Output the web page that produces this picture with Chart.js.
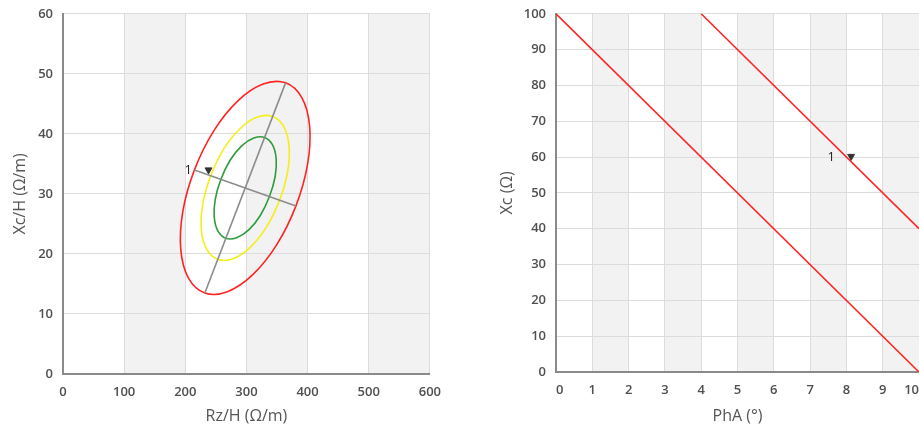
<!DOCTYPE html>
<html>
<head>
<meta charset="utf-8">
<script src="https://cdn.jsdelivr.net/npm/chart.js@4.4.1/dist/chart.umd.min.js"></script>
<style>
  html, body { margin: 0; padding: 0; background: #fff; overflow: hidden; width: 919px; height: 430px; }
  #leftWrap { position: absolute; left: 0; top: -4px; width: 451px; height: 434px; }
  #rightWrap { position: absolute; left: 460px; top: -4px; width: 476px; height: 434px; }
</style>
</head>
<body>
<div id="leftWrap"><canvas id="ellipseChart" width="451" height="434"></canvas></div>
<div id="rightWrap"><canvas id="phaseChart" width="476" height="434"></canvas></div>
<script>
// Left chart: Rz/H vs Xc/H ellipses (points read around each curve)
const redX = [364, 327.2, 286, 246.6, 215, 196, 192.6, 205.2, 232, 268.8, 310, 349.4, 381, 400, 403.4, 390.8];
const redY = [48.5, 48.3, 45.5, 40.5, 34, 27.1, 20.75, 15.98, 13.5, 13.7, 16.5, 21.5, 28, 34.9, 41.25, 46.0];
const yellowX = [342.9, 317.9, 289.8, 263.0, 241.6, 228.6, 226.3, 234.9, 253.1, 278.1, 306.2, 333.0, 354.4, 367.4, 369.7, 361.1];
const yellowY = [42.9, 42.8, 40.9, 37.5, 33.0, 28.3, 24.0, 20.8, 19.1, 19.2, 21.1, 24.5, 29.0, 33.7, 38.0, 41.2];
const greenX = [329.7, 312.0, 292.2, 273.3, 258.2, 249.0, 247.4, 253.5, 266.3, 284.0, 303.8, 322.7, 337.8, 347.0, 348.6, 342.5];
const greenY = [39.4, 39.3, 38.0, 35.6, 32.4, 29.1, 26.1, 23.8, 22.6, 22.7, 24.0, 26.4, 29.6, 32.9, 35.9, 38.2];
const majorAxisX = [232, 364];
const majorAxisY = [13.5, 48.5];
const minorAxisX = [215, 381];
const minorAxisY = [34, 28];
const leftMarkerX = [238];
const leftMarkerY = [34];
const leftLabels = [{ x: 205, y: 34, text: '1' }];
const leftBands = [[100, 200], [300, 400], [500, 600]];

// Right chart: PhA vs Xc lines
const lineAX = [0, 10];
const lineAY = [100, 0];
const lineBX = [4, 10];
const lineBY = [100, 40];
const rightMarkerX = [8.13];
const rightMarkerY = [60.2];
const rightLabels = [{ x: 7.58, y: 60, text: '1' }];
const rightBands = [[1, 2], [3, 4], [5, 6], [7, 8], [9, 10]];

const FONT = "'Open Sans', 'DejaVu Sans', sans-serif";

function toPoints(xs, ys) {
  return xs.map((x, i) => ({ x, y: ys[i] }));
}

// closed curve: wrap one point on each side and hide the two extra segments
function loopDataset(xs, ys, color) {
  const pts = toPoints(xs, ys);
  const data = [pts[pts.length - 1], ...pts, pts[0], pts[1]];
  const last = data.length - 2;
  return {
    data,
    showLine: true,
    borderColor: color,
    borderWidth: 1.6,
    pointRadius: 0,
    tension: 0.34,
    segment: {
      borderColor: (ctx) => (ctx.p0DataIndex === 0 || ctx.p0DataIndex === last) ? 'rgba(0,0,0,0)' : color
    }
  };
}

function lineDataset(xs, ys, color, width) {
  return {
    data: toPoints(xs, ys),
    showLine: true,
    borderColor: color,
    borderWidth: width,
    pointRadius: 0
  };
}

function markerDataset(xs, ys) {
  return {
    data: toPoints(xs, ys),
    showLine: false,
    pointStyle: 'triangle',
    rotation: 180,
    pointRadius: 4,
    backgroundColor: '#333',
    borderColor: '#333',
    borderWidth: 1
  };
}

// shaded vertical bands + "1" labels
const bandsPlugin = {
  id: 'bands',
  beforeDraw(chart, args, opts) {
    const { ctx, chartArea, scales } = chart;
    ctx.save();
    ctx.fillStyle = '#f2f2f2';
    opts.bands.forEach(([a, b]) => {
      const x0 = scales.x.getPixelForValue(a);
      const x1 = scales.x.getPixelForValue(b);
      ctx.fillRect(x0, chartArea.top, x1 - x0, chartArea.bottom - chartArea.top);
    });
    ctx.restore();
  },
  afterDatasetsDraw(chart, args, opts) {
    const { ctx, scales } = chart;
    ctx.save();
    ctx.fillStyle = '#222';
    ctx.font = '13px ' + FONT;
    ctx.textAlign = 'center';
    ctx.textBaseline = 'middle';
    opts.labels.forEach((l) => {
      ctx.fillText(l.text, scales.x.getPixelForValue(l.x), scales.y.getPixelForValue(l.y));
    });
    ctx.restore();
  }
};

function makeOptions(cfg) {
  return {
    responsive: false,
    animation: false,
    layout: { padding: cfg.padding },
    plugins: {
      legend: { display: false },
      tooltip: { enabled: false },
      bands: { bands: cfg.bands, labels: cfg.labels }
    },
    scales: {
      x: {
        type: 'linear',
        min: cfg.xMin,
        max: cfg.xMax,
        afterFit: (scale) => { scale.height = cfg.xHeight; },
        border: { color: '#8a8a8a', width: 2 },
        grid: { color: '#dcdcdc', lineWidth: 1, drawTicks: false },
        ticks: { stepSize: cfg.xStep, padding: 10, align: cfg.xAlign, color: '#4f4f4f', font: { family: FONT, size: 13, weight: '600' } },
        title: { display: true, text: cfg.xTitle, color: '#555', font: { family: FONT, size: 16 }, padding: { top: 4, bottom: 4 } }
      },
      y: {
        type: 'linear',
        min: cfg.yMin,
        max: cfg.yMax,
        afterFit: (scale) => { scale.width = cfg.yWidth; },
        border: { color: '#8a8a8a', width: 2 },
        grid: { color: '#dcdcdc', lineWidth: 1, drawTicks: false },
        ticks: { stepSize: cfg.yStep, padding: 10, color: '#4f4f4f', font: { family: FONT, size: 13, weight: '600' } },
        title: { display: true, text: cfg.yTitle, color: '#555', font: { family: FONT, size: 16 }, padding: { top: 4, bottom: 4 } }
      }
    }
  };
}

new Chart(document.getElementById('ellipseChart'), {
  type: 'scatter',
  data: {
    datasets: [
      lineDataset(majorAxisX, majorAxisY, '#8c8c8c', 1.6),
      lineDataset(minorAxisX, minorAxisY, '#8c8c8c', 1.6),
      loopDataset(greenX, greenY, '#2f9b3a'),
      loopDataset(yellowX, yellowY, '#f3ef1c'),
      loopDataset(redX, redY, '#ff2424'),
      markerDataset(leftMarkerX, leftMarkerY)
    ]
  },
  options: makeOptions({
    padding: { left: 7, top: 9.5, right: 16, bottom: 0 },
    bands: leftBands,
    labels: leftLabels,
    xMin: 0, xMax: 600, xStep: 100, xHeight: 56, xAlign: 'center', xTitle: 'Rz/H (Ω/m)',
    yMin: 0, yMax: 60, yStep: 10, yWidth: 56, yTitle: 'Xc/H (Ω/m)'
  }),
  plugins: [bandsPlugin]
});

new Chart(document.getElementById('phaseChart'), {
  type: 'scatter',
  data: {
    datasets: [
      lineDataset(lineAX, lineAY, '#ff2424', 1.6),
      lineDataset(lineBX, lineBY, '#ff2424', 1.6),
      markerDataset(rightMarkerX, rightMarkerY)
    ]
  },
  options: makeOptions({
    padding: { left: 34, top: 9.5, right: 17, bottom: 0 },
    bands: rightBands,
    labels: rightLabels,
    xMin: 0, xMax: 10, xStep: 1, xHeight: 58, xAlign: 'inner', xTitle: 'PhA (°)',
    yMin: 0, yMax: 100, yStep: 10, yWidth: 62, yTitle: 'Xc (Ω)'
  }),
  plugins: [bandsPlugin]
});
</script>
</body>
</html>
